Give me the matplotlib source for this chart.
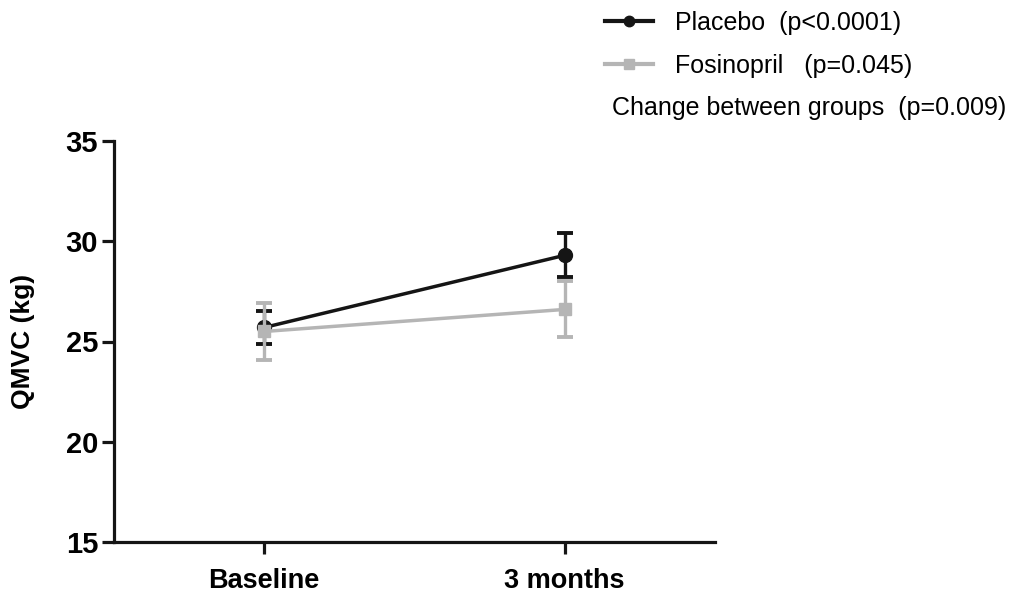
import matplotlib
matplotlib.use("Agg")
import matplotlib.pyplot as plt
from matplotlib.lines import Line2D

# group means and SEM at each visit
timepoints = ["Baseline", "3 months"]
placebo_mean = [25.7, 29.3]
placebo_sem = [0.8, 1.1]
fosinopril_mean = [25.5, 26.6]
fosinopril_sem = [1.4, 1.4]

placebo_label = "Placebo  (p<0.0001)"
fosinopril_label = "Fosinopril   (p=0.045)"
between_label = "Change between groups  (p=0.009)"

BLACK = "#151515"
GREY = "#b5b5b5"

plt.rcParams["font.family"] = ["Liberation Sans", "DejaVu Sans"]

fig = plt.figure(figsize=(10.14, 5.99), dpi=100)
ax = fig.add_axes([114 / 1014, 1 - 542 / 599, 601 / 1014, 401 / 599])

x = list(range(len(timepoints)))
ax.errorbar(x, placebo_mean, yerr=placebo_sem, color=BLACK, lw=2.5,
            marker="o", ms=10, elinewidth=2.4, capsize=5.5, capthick=2.8, zorder=3)
ax.errorbar(x, fosinopril_mean, yerr=fosinopril_sem, color=GREY, lw=2.5,
            marker="s", ms=9, elinewidth=2.4, capsize=5.5, capthick=2.8, zorder=4)

ax.set_xlim(-0.5, 1.5)
ax.set_ylim(15, 35)
ax.set_yticks([15, 20, 25, 30, 35])
ax.set_xticks(x)
ax.set_xticklabels(timepoints)

for side in ("top", "right"):
    ax.spines[side].set_visible(False)
for side in ("left", "bottom"):
    ax.spines[side].set_linewidth(2.3)
    ax.spines[side].set_color(BLACK)

ax.tick_params(axis="both", width=2.3, length=8.5, color=BLACK)
ax.tick_params(axis="y", pad=3, labelsize=21)
ax.tick_params(axis="x", pad=10, labelsize=19.5)
for lab in ax.get_xticklabels() + ax.get_yticklabels():
    lab.set_fontweight("bold")

ax.set_ylabel("QMVC (kg)", fontsize=19, fontweight="bold", labelpad=22)

handles = [
    Line2D([], [], color=BLACK, lw=3, marker="o", ms=7.5),
    Line2D([], [], color=GREY, lw=3, marker="s", ms=7),
]
fig.legend(handles, [placebo_label, fosinopril_label], loc="upper left",
           bbox_to_anchor=(605 / 1014, 1 - 11 / 599), frameon=False,
           fontsize=18, handlelength=1.9, handletextpad=0.9,
           labelspacing=0.75, borderpad=0, borderaxespad=0)
fig.text(612 / 1014, 1 - 108 / 599, between_label, fontsize=18,
         va="center", ha="left")

fig.savefig("out.png", dpi=100)
